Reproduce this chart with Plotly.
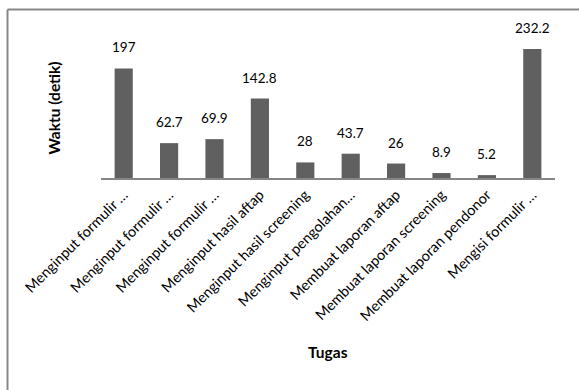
import plotly.graph_objects as go

categories = [
    "Menginput formulir …",
    "Menginput formulir …",
    "Menginput formulir …",
    "Menginput hasil aftap",
    "Menginput hasil screening",
    "Menginput pengolahan…",
    "Membuat laporan aftap",
    "Membuat laporan screening",
    "Membuat laporan pendonor",
    "Mengisi formulir …",
]
values = [197, 62.7, 69.9, 142.8, 28, 43.7, 26, 8.9, 5.2, 232.2]
value_labels = ["197", "62.7", "69.9", "142.8", "28", "43.7", "26", "8.9", "5.2", "232.2"]
x_title = "Tugas"
y_title = "Waktu (detik)"

W, H = 579, 390
ml, mr, mt, mb = 101, 24, 39, 212
pw, ph = W - ml - mr, H - mt - mb

xs = list(range(len(categories)))
FONT = "Lato"

fig = go.Figure()
fig.add_trace(go.Bar(x=xs, y=values, marker=dict(color="#606060", line=dict(width=0)),
                     width=0.4, hoverinfo="skip"))

for x, v, t in zip(xs, values, value_labels):
    fig.add_annotation(x=x, y=v, text=t, showarrow=False, yshift=21,
                       font=dict(family=FONT, size=13.5, color="#000000"))

# axis titles
fig.add_annotation(xref="paper", yref="paper", x=0.5, y=(178 - 352) / ph,
                   text="<b>%s</b>" % x_title, showarrow=False, xanchor="center", yanchor="middle",
                   font=dict(family=FONT, size=15.5, color="#000000"))
fig.add_annotation(xref="paper", yref="paper", x=(53 - ml) / pw, y=0.5, textangle=-90,
                   text="<b>%s</b>" % y_title, showarrow=False, xanchor="center", yanchor="middle",
                   font=dict(family=FONT, size=15.5, color="#000000"))

# outer chart border (left and top visible)
bx = (7.5 - ml) / pw
by = (mt - 9.5) / ph + 1
fig.add_shape(type="line", xref="paper", yref="paper", x0=bx, x1=bx, y0=by, y1=-2,
              line=dict(color="#878787", width=2))
fig.add_shape(type="line", xref="paper", yref="paper", x0=bx, x1=1.5, y0=by, y1=by,
              line=dict(color="#878787", width=2))

fig.update_layout(
    width=W, height=H,
    margin=dict(l=ml, r=mr, t=mt, b=mb),
    paper_bgcolor="white", plot_bgcolor="white",
    showlegend=False,
    font=dict(family=FONT, color="#000000"),
    xaxis=dict(
        range=[-0.5, len(categories) - 0.5],
        tickmode="array", tickvals=xs, ticktext=categories,
        tickangle=-45, tickfont=dict(family=FONT, size=14.5, color="#000000"),
        ticklabelstandoff=1,
        showline=True, linecolor="#868686", linewidth=1.5,
        showgrid=False, zeroline=False, ticks="",
    ),
    yaxis=dict(
        range=[0, 250], showticklabels=False, showgrid=False,
        zeroline=False, showline=False, ticks="",
    ),
)

fig.write_html("out.html")
